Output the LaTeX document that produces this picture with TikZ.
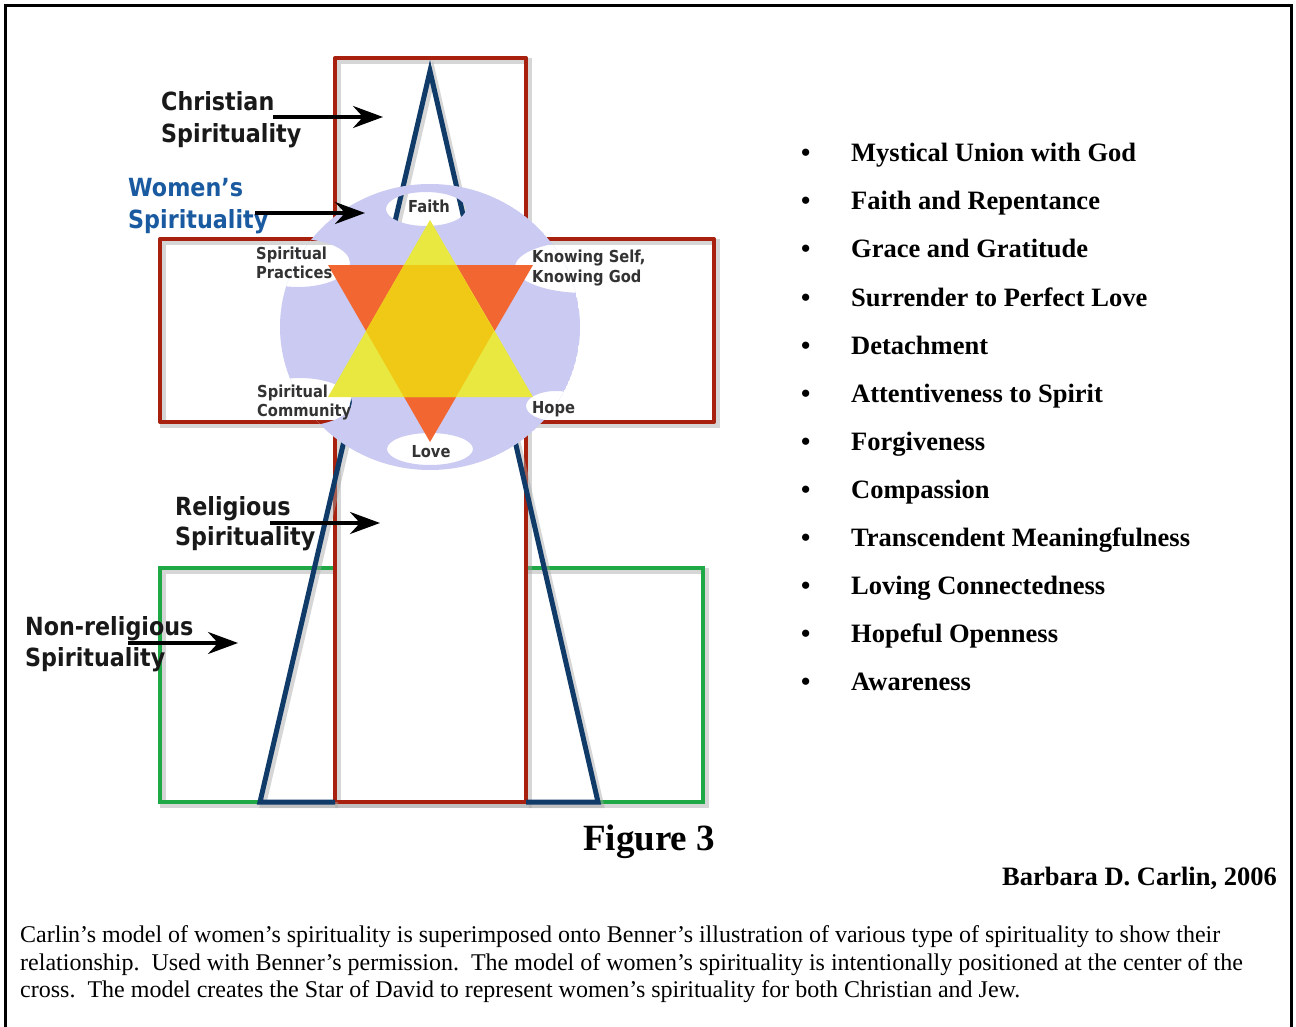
\documentclass[tikz,border=0pt]{standalone}
\usepackage{fontspec}
\setmainfont{Liberation Serif}
\newfontfamily\lab{DejaVu Sans}[FakeStretch=0.89]
\usetikzlibrary{arrows.meta}
\definecolor{crossred}{RGB}{168,32,14}
\definecolor{navy}{RGB}{16,58,104}
\definecolor{grn}{RGB}{30,168,70}
\definecolor{lav}{RGB}{202,202,242}
\definecolor{org}{RGB}{242,102,50}
\definecolor{ylw}{RGB}{232,232,64}
\definecolor{gold}{RGB}{240,200,22}
\definecolor{wblue}{RGB}{26,90,160}
\tikzset{
  lbl/.style={font=\lab\bfseries\fontsize{25}{30}\selectfont, inner sep=0pt, anchor=base west, text=black!90},
  small/.style={font=\lab\bfseries\fontsize{16.5}{20}\selectfont, inner sep=0pt, text=black!80},
  arr/.style={line width=3.5pt, -{Stealth[length=30pt,width=22pt,inset=10pt]}},
  bul/.style={font=\bfseries\fontsize{26.5}{30}\selectfont, inner sep=0pt, anchor=base west},
  shdw/.style={draw=black!35, opacity=0.45, line width=6pt, shift={(3,3)}},
  captxt/.style={font=\fontsize{24}{28}\selectfont, inner sep=0pt, anchor=base west}
}
\begin{document}
\begin{tikzpicture}[x=1pt,y=-1pt]
\useasboundingbox (0,0) rectangle (1296,1027);
\fill[white] (0,0) rectangle (1296,1027);
% outer frame
\draw[line width=3pt] (5,1030) -- (5,6) -- (1291,6) -- (1291,1030);

% green rectangle
\draw[shdw] (160,568) rectangle (703,802);
\draw[grn, line width=4.5pt] (160,568) rectangle (703,802);

% cross
\fill[white] (335,239) -- (335,58) -- (526,58) -- (526,239) -- (714,239) -- (714,422)
  -- (526,422) -- (526,802) -- (335,802) -- (335,422) -- (160,422) -- (160,239) -- cycle;
\draw[shdw] (335,239) -- (335,58) -- (526,58) -- (526,239) -- (714,239) -- (714,422)
  -- (526,422) -- (526,802) -- (335,802) -- (335,422) -- (160,422) -- (160,239) -- cycle;
\draw[crossred, line width=4pt, line join=round] (335,239) -- (335,58) -- (526,58) -- (526,239) -- (714,239) -- (714,422)
  -- (526,422) -- (526,802) -- (335,802) -- (335,422) -- (160,422) -- (160,239) -- cycle;

% blue trapezoid
\draw[shdw] (335,802) -- (260,802) -- (430,71) -- (598,802) -- (526,802);
\draw[navy, line width=5pt, line join=miter] (335,802) -- (260,802) -- (430,71) -- (598,802) -- (526,802);

% lavender disc with holes
\begin{scope}
  \clip (430,327) ellipse [x radius=150, y radius=143];
  \fill[lav, even odd rule] (430,327) ellipse [x radius=150, y radius=143]
    (426,209) ellipse [x radius=40, y radius=17]
    (298,263) ellipse [x radius=52, y radius=24]
    (585,267) ellipse [x radius=70, y radius=26]
    (300,402) ellipse [x radius=52, y radius=24]
    (556,406) ellipse [x radius=30, y radius=15]
    (430,449) ellipse [x radius=43, y radius=16];
\end{scope}

% star of David
\fill[org] (328,265) -- (533,265) -- (430,442) -- cycle;
\fill[ylw] (430,220) -- (533,397) -- (328,397) -- cycle;
\fill[gold] (404,265) -- (456,265) -- (494,331) -- (456,397) -- (404,397) -- (366,331) -- cycle;

% small labels
\node[small, anchor=base] (faith) at (429,213) {Faith};
\node[small, anchor=base west] (sp1) at (256,259) {Spiritual};
\node[small, anchor=base west] (sp2) at (256,278) {Practices};
\node[small, anchor=base west] (ks1) at (532,262) {Knowing Self,};
\node[small, anchor=base west] (ks2) at (532,282) {Knowing God};
\node[small, anchor=base west] (sc1) at (257,397) {Spiritual};
\node[small, anchor=base west] (sc2) at (257,416) {Community};
\node[small, anchor=base west] (hope) at (532,413) {Hope};
\node[small, anchor=base] (love) at (431,457) {Love};

% side labels
\node[lbl] (chr1) at (161,111) {Christian};
\node[lbl] (chr2) at (161,143) {Spirituality};
\node[lbl, text=wblue] (wom1) at (128,197) {Women’s};
\node[lbl, text=wblue] (wom2) at (128,229) {Spirituality};
\node[lbl] (rel1) at (175,515) {Religious};
\node[lbl] (rel2) at (175,545) {Spirituality};
\node[lbl] (non1) at (25,635) {Non-religious};
\node[lbl] (non2) at (25,666) {Spirituality};

% arrows
\coordinate (a1s) at (273,117); \coordinate (a1e) at (383,117);
\coordinate (a2s) at (255,213); \coordinate (a2e) at (365,213);
\coordinate (a3s) at (270,523); \coordinate (a3e) at (380,523);
\coordinate (a4s) at (128,643); \coordinate (a4e) at (238,643);
\draw[arr] (a1s) -- (a1e);
\draw[arr] (a2s) -- (a2e);
\draw[arr] (a3s) -- (a3e);
\draw[arr] (a4s) -- (a4e);

% bullet list
\foreach \t [count=\i from 0] in {Mystical Union with God, Faith and Repentance, Grace and Gratitude,
  Surrender to Perfect Love, Detachment, Attentiveness to Spirit, Forgiveness, Compassion,
  Transcendent Meaningfulness, Loving Connectedness, Hopeful Openness, Awareness} {
  \node[bul] (b\i) at (801,162+48*\i) {\textbullet};
  \node[bul] (t\i) at (851,162+48*\i) {\t};
}

% figure title and author
\node[font=\bfseries\fontsize{37}{40}\selectfont, inner sep=0pt, anchor=base west] (fig) at (583,850) {Figure 3};
\node[font=\bfseries\fontsize{26.5}{30}\selectfont, inner sep=0pt, anchor=base east] (auth) at (1277,885) {Barbara D. Carlin, 2006};

% caption
\node[captxt] (c1) at (20,942) {Carlin’s model of women’s spirituality is superimposed onto Benner’s illustration of various type of spirituality to show their};
\node[captxt] (c2) at (20,970) {relationship.\ \ Used with Benner’s permission.\ \ The model of women’s spirituality is intentionally positioned at the center of the};
\node[captxt] (c3) at (20,997) {cross.\ \ The model creates the Star of David to represent women’s spirituality for both Christian and Jew.};
\end{tikzpicture}
\end{document}
